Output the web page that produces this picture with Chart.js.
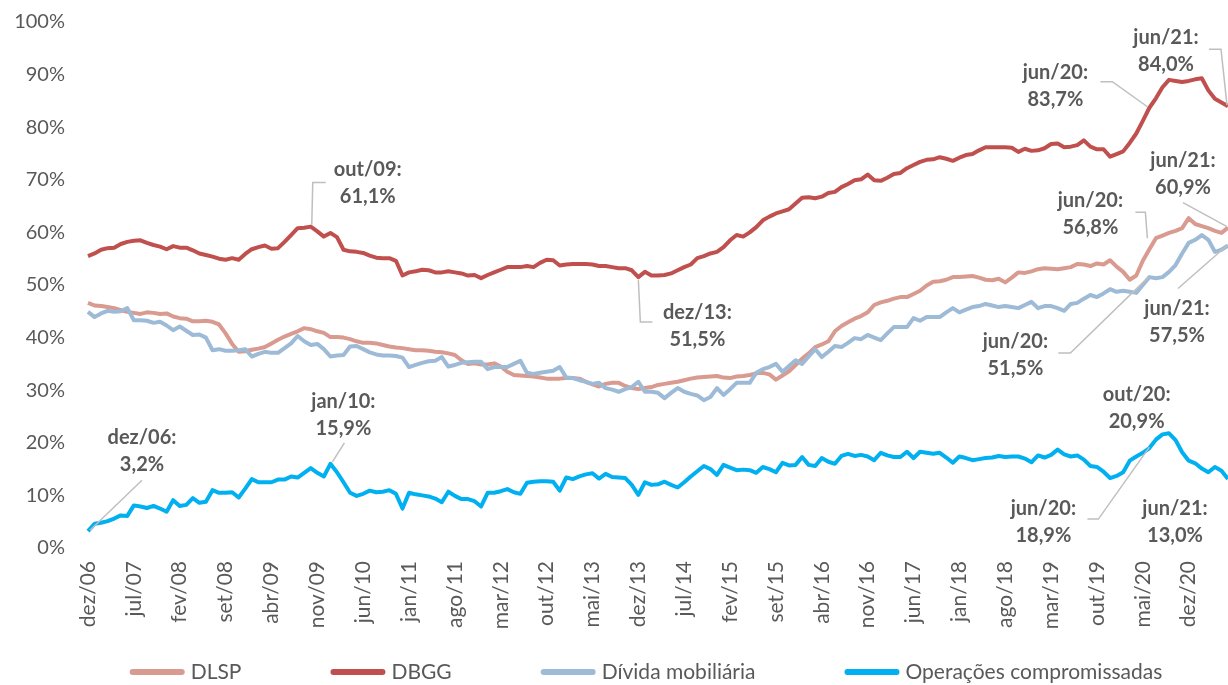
<!DOCTYPE html>
<html>
<head>
<meta charset="utf-8">
<script src="https://cdn.jsdelivr.net/npm/chart.js"></script>
<style>
  body { margin: 0; background: #fff; }
  #wrap { width: 1228px; height: 685px; }
</style>
</head>
<body>
<div id="wrap"><canvas id="lineChart" width="1228" height="685"></canvas></div>
<script>
// monthly, dez/06 .. jun/21 (% do PIB)
const monthNames = ['jan', 'fev', 'mar', 'abr', 'mai', 'jun', 'jul', 'ago', 'set', 'out', 'nov', 'dez'];
const categories = [];
for (let y = 2006, m = 11; y < 2021 || m <= 5; m++) {
    if (m === 12) { m = 0; y++; }
    categories.push(monthNames[m] + '/' + String(y).slice(2));
}

const seriesNames = ['DLSP', 'DBGG', 'Dívida mobiliária', 'Operações compromissadas'];

const dlsp = [
    46.6, 46.1, 46.0, 45.8, 45.6, 45.2, 44.9, 44.7, 44.5, 44.8, 44.7, 44.5,
    44.6, 44.0, 43.7, 43.6, 43.1, 43.1, 43.2, 43.0, 42.5, 40.8, 38.8, 37.3,
    37.4, 37.7, 37.9, 38.2, 38.9, 39.6, 40.2, 40.7, 41.2, 41.8, 41.6, 41.2,
    40.9, 40.1, 40.1, 40.0, 39.7, 39.3, 39.0, 39.0, 38.9, 38.6, 38.3, 38.1,
    38.0, 37.8, 37.6, 37.6, 37.5, 37.3, 37.2, 37.0, 36.7, 35.7, 35.0, 35.1,
    34.9, 34.9, 35.1, 34.5, 33.5, 32.9, 32.8, 32.7, 32.6, 32.4, 32.2, 32.2,
    32.2, 32.3, 32.3, 32.2, 31.6, 31.1, 30.7, 31.2, 31.4, 31.4, 30.8, 30.4,
    30.2, 30.4, 30.6, 31.0, 31.2, 31.4, 31.6, 31.9, 32.2, 32.4, 32.5, 32.6,
    32.7, 32.4, 32.3, 32.6, 32.7, 32.9, 33.2, 33.3, 33.0, 32.0, 32.8, 33.6,
    34.8, 36.0, 37.0, 38.2, 38.7, 39.3, 41.2, 42.2, 42.9, 43.6, 44.1, 44.8,
    46.2, 46.7, 47.0, 47.4, 47.7, 47.7, 48.3, 48.9, 49.9, 50.6, 50.7, 51.0,
    51.5, 51.5, 51.6, 51.7, 51.4, 51.0, 50.9, 51.2, 50.5, 51.4, 52.4, 52.3,
    52.6, 53.0, 53.2, 53.1, 53.0, 53.2, 53.4, 54.0, 53.9, 53.6, 54.1, 53.9,
    54.7, 53.5, 52.5, 51.0, 51.8, 54.6, 56.8, 58.9, 59.4, 59.9, 60.3, 60.8,
    62.7, 61.6, 61.2, 60.8, 60.3, 59.9, 60.9
];

const dbgg = [
    55.5, 56.0, 56.7, 57.0, 57.1, 57.8, 58.2, 58.4, 58.5, 58.0, 57.6, 57.3,
    56.8, 57.4, 57.1, 57.1, 56.6, 56.0, 55.7, 55.4, 55.0, 54.8, 55.1, 54.8,
    55.9, 56.8, 57.2, 57.5, 56.9, 57.0, 58.2, 59.5, 60.8, 60.9, 61.1, 60.2,
    59.2, 59.9, 59.1, 56.7, 56.4, 56.3, 56.1, 55.6, 55.2, 55.1, 55.1, 54.6,
    51.8, 52.4, 52.6, 52.9, 52.8, 52.4, 52.4, 52.6, 52.4, 52.2, 51.8, 51.9,
    51.3, 51.9, 52.4, 52.9, 53.4, 53.4, 53.4, 53.6, 53.4, 54.2, 54.8, 54.7,
    53.7, 53.9, 54.0, 54.0, 54.0, 53.9, 53.6, 53.6, 53.4, 53.2, 53.2, 52.8,
    51.5, 52.5, 51.8, 51.8, 51.9, 52.2, 52.8, 53.4, 53.9, 55.1, 55.5, 56.0,
    56.3, 57.2, 58.5, 59.5, 59.2, 60.0, 61.0, 62.3, 63.0, 63.6, 64.0, 64.4,
    65.5, 66.6, 66.7, 66.5, 66.8, 67.5, 67.7, 68.6, 69.2, 69.9, 70.1, 71.0,
    69.9, 69.8, 70.4, 71.1, 71.3, 72.2, 72.8, 73.4, 73.8, 73.9, 74.3, 74.0,
    73.6, 74.2, 74.7, 74.9, 75.6, 76.2, 76.2, 76.2, 76.2, 76.1, 75.3, 75.9,
    75.5, 75.6, 76.0, 76.8, 76.9, 76.2, 76.3, 76.6, 77.5, 76.3, 75.8, 75.8,
    74.4, 74.9, 75.4, 77.0, 78.8, 81.2, 83.7, 85.5, 87.6, 89.0, 88.8, 88.6,
    88.8, 89.1, 89.3, 87.0, 85.4, 84.7, 84.0
];

const dividaMobiliaria = [
    44.9, 43.9, 44.6, 45.1, 44.9, 45.0, 45.6, 43.3, 43.3, 43.2, 42.8, 43.0,
    42.3, 41.4, 42.1, 41.3, 40.5, 40.6, 40.0, 37.6, 37.8, 37.5, 37.5, 37.6,
    37.8, 36.4, 36.9, 37.3, 37.1, 37.1, 38.0, 38.9, 40.3, 39.3, 38.6, 38.8,
    37.8, 36.4, 36.6, 36.7, 38.3, 38.4, 37.8, 37.2, 36.8, 36.6, 36.6, 36.5,
    36.2, 34.4, 34.8, 35.2, 35.5, 35.6, 36.3, 34.5, 34.8, 35.2, 35.3, 35.4,
    35.4, 34.0, 34.4, 34.4, 34.4, 35.0, 35.6, 33.3, 33.1, 33.3, 33.5, 33.7,
    34.4, 32.4, 32.3, 31.9, 31.6, 31.2, 31.4, 30.4, 30.1, 29.7, 30.2, 30.6,
    31.6, 29.7, 29.7, 29.5, 28.5, 29.5, 30.4, 29.7, 29.3, 29.0, 28.1, 28.7,
    30.4, 29.1, 30.2, 31.4, 31.4, 31.4, 33.3, 34.0, 34.4, 35.0, 33.5, 34.6,
    35.7, 35.0, 36.4, 37.8, 36.3, 37.3, 38.4, 38.2, 39.0, 39.9, 39.7, 40.5,
    40.0, 39.5, 40.8, 42.0, 42.0, 42.0, 43.7, 43.2, 43.9, 43.9, 43.9, 44.8,
    45.6, 44.8, 45.3, 45.8, 46.0, 46.4, 46.1, 45.8, 46.0, 45.8, 45.6, 46.2,
    46.8, 45.6, 46.0, 46.0, 45.6, 45.1, 46.4, 46.6, 47.4, 48.1, 47.7, 48.4,
    49.2, 48.7, 48.9, 48.7, 48.5, 50.0, 51.5, 51.3, 51.5, 52.5, 53.8, 56.0,
    58.0, 58.6, 59.5, 58.6, 56.3, 56.7, 57.5
];

const operacoesCompromissadas = [
    3.2, 4.6, 4.8, 5.1, 5.6, 6.2, 6.1, 8.1, 7.9, 7.6, 8.0, 7.5,
    6.9, 9.1, 8.0, 8.2, 9.5, 8.6, 8.8, 11.0, 10.5, 10.5, 10.6, 9.6,
    11.3, 13.1, 12.5, 12.5, 12.5, 13.0, 13.0, 13.6, 13.4, 14.3, 15.2, 14.3,
    13.6, 16.0, 14.4, 12.5, 10.5, 9.9, 10.3, 10.9, 10.6, 10.7, 11.0, 10.3,
    7.5, 10.5, 10.2, 10.0, 9.8, 9.4, 8.7, 10.7, 9.9, 9.3, 9.3, 8.9,
    7.9, 10.5, 10.5, 10.8, 11.2, 10.6, 10.3, 12.4, 12.6, 12.7, 12.7, 12.6,
    10.9, 13.4, 13.1, 13.6, 14.0, 14.2, 13.2, 14.1, 13.5, 13.4, 13.3, 12.0,
    10.1, 12.5, 12.0, 12.1, 12.6, 12.0, 11.5, 12.5, 13.6, 14.6, 15.6, 15.0,
    13.9, 15.8, 15.3, 14.8, 14.9, 14.8, 14.3, 15.4, 15.0, 14.4, 16.2, 15.7,
    15.8, 17.3, 15.8, 15.6, 17.1, 16.4, 16.0, 17.5, 17.9, 17.5, 17.7, 17.4,
    16.7, 18.1, 17.6, 17.3, 17.3, 18.3, 17.1, 18.3, 18.1, 17.9, 18.1, 17.2,
    16.2, 17.4, 17.1, 16.7, 16.9, 17.1, 17.2, 17.5, 17.3, 17.4, 17.4, 17.0,
    16.3, 17.6, 17.2, 17.7, 18.7, 17.8, 17.4, 17.6, 16.8, 15.6, 15.4, 14.5,
    13.3, 13.7, 14.4, 16.6, 17.4, 18.1, 19.0, 20.6, 21.6, 21.8, 20.5, 18.2,
    16.6, 16.1, 15.1, 14.4, 15.4, 14.7, 13.1
];

const yTicks = [0, 10, 20, 30, 40, 50, 60, 70, 80, 90, 100];

// callouts: series index, month index, text; offsets in px from the point
const callouts = [
    { series: 3, index: 0,   text: ['dez/06:', '3,2%'],  dx: 54,   dy: -94, leader: [[2, -1], [54, -51]] },
    { series: 3, index: 37,  text: ['jan/10:', '15,9%'], dx: 13,   dy: -62, leader: [[2, -2], [14, -21]] },
    { series: 1, index: 34,  text: ['out/09:', '61,1%'], dx: 57,   dy: -57, leader: [[1, -2], [2, -44], [15, -44]] },
    { series: 1, index: 84,  text: ['dez/13:', '51,5%'], dx: 59,   dy: 35,  leader: [[0, 3], [2, 45], [14, 45]] },
    { series: 1, index: 162, text: ['jun/20:', '83,7%'], dx: -94,  dy: -35, leader: [[-2, -1], [-37, -26], [-49, -26]] },
    { series: 1, index: 174, text: ['jun/21:', '84,0%'], dx: -62,  dy: -69, leader: [[-1, -1], [-7, -57], [-19, -57]] },
    { series: 0, index: 162, text: ['jun/20:', '56,8%'], dx: -59,  dy: -49, leader: [[-2, -11], [-4, -37], [-14, -37]] },
    { series: 0, index: 174, text: ['jun/21:', '60,9%'], dx: -45,  dy: -67, leader: [[-1, -1], [-45, -25]] },
    { series: 2, index: 162, text: ['jun/20:', '51,5%'], dx: -134, dy: 64,  leader: [[-1, 0], [-79, 76], [-91, 76]] },
    { series: 2, index: 174, text: ['jun/21:', '57,5%'], dx: -51,  dy: 63,  leader: [[-1, 0], [-50, 43]] },
    { series: 3, index: 166, text: ['out/20:', '20,9%'], dx: -39,  dy: -46, leader: null },
    { series: 3, index: 162, text: ['jun/20:', '18,9%'], dx: -106, dy: 60,  leader: [[0, -1], [-51, 71], [-62, 71]] },
    { series: 3, index: 174, text: ['jun/21:', '13,0%'], dx: -53,  dy: 29,  leader: null }
];

const textColor = '#595959';
const fontFamily = 'Lato, "Open Sans", sans-serif';

const calloutPlugin = {
    id: 'callouts',
    afterDatasetsDraw(chart) {
        const ctx = chart.ctx;
        ctx.save();
        callouts.forEach(c => {
            const pt = chart.getDatasetMeta(c.series).data[c.index];
            if (c.leader) {
                ctx.strokeStyle = '#BFBFBF';
                ctx.lineWidth = 1.5;
                ctx.beginPath();
                c.leader.forEach((p, i) => {
                    if (i === 0) ctx.moveTo(pt.x + p[0], pt.y + p[1]);
                    else ctx.lineTo(pt.x + p[0], pt.y + p[1]);
                });
                ctx.stroke();
            }
            ctx.fillStyle = textColor;
            ctx.font = 'bold 20px ' + fontFamily;
            ctx.textAlign = 'center';
            ctx.textBaseline = 'middle';
            c.text.forEach((t, i) => ctx.fillText(t, pt.x + c.dx, pt.y + c.dy + i * 27));
        });
        ctx.restore();
    }
};

// legend drawn under the axis, line swatches like the original
const legendPlugin = {
    id: 'lineLegend',
    afterDraw(chart) {
        const ctx = chart.ctx;
        const swatch = 55, gap = 6, spacing = 89, y = 672;
        ctx.save();
        ctx.font = '21px ' + fontFamily;
        const items = chart.data.datasets.map(ds => ({
            label: ds.label, color: ds.borderColor,
            w: swatch + gap + ctx.measureText(ds.label).width
        }));
        const total = items.reduce((s, it) => s + it.w, 0) + spacing * (items.length - 1);
        let x = 646 - total / 2;
        items.forEach(it => {
            ctx.strokeStyle = it.color;
            ctx.lineWidth = 6;
            ctx.lineCap = 'round';
            ctx.beginPath();
            ctx.moveTo(x + 3, y);
            ctx.lineTo(x + swatch - 3, y);
            ctx.stroke();
            ctx.fillStyle = textColor;
            ctx.textAlign = 'left';
            ctx.textBaseline = 'middle';
            ctx.fillText(it.label, x + swatch + gap, y);
            x += it.w + spacing;
        });
        ctx.restore();
    }
};

function makeDataset(label, data, color, order) {
    return {
        label: label,
        data: data,
        borderColor: color,
        backgroundColor: color,
        borderWidth: 4,
        pointRadius: 0,
        tension: 0,
        borderJoinStyle: 'round',
        order: order
    };
}

const ctx = document.getElementById('lineChart').getContext('2d');
new Chart(ctx, {
    type: 'line',
    data: {
        labels: categories,
        datasets: [
            makeDataset(seriesNames[0], dlsp, '#D99A90', 4),
            makeDataset(seriesNames[1], dbgg, '#C0504D', 3),
            makeDataset(seriesNames[2], dividaMobiliaria, '#9DBAD6', 2),
            makeDataset(seriesNames[3], operacoesCompromissadas, '#00B0F0', 1)
        ]
    },
    options: {
        responsive: false,
        animation: false,
        devicePixelRatio: 1,
        layout: { padding: { top: 22, right: 0, bottom: 0, left: 0 } },
        plugins: {
            legend: { display: false },
            tooltip: { enabled: false }
        },
        scales: {
            x: {
                grid: { display: false, drawTicks: false },
                border: { display: false },
                afterFit: scale => { scale.height = 137; },
                ticks: {
                    autoSkip: false,
                    maxRotation: 90,
                    minRotation: 90,
                    padding: 13,
                    color: textColor,
                    font: { family: fontFamily, size: 21 },
                    callback: function (value, index) {
                        return index % 7 === 0 ? this.getLabelForValue(value) : null;
                    }
                }
            },
            y: {
                min: 0,
                max: 100,
                grid: { display: false, drawTicks: false },
                border: { display: false },
                afterFit: scale => {
                    scale.width = 88;
                    scale.paddingTop = 0;
                    scale.paddingBottom = 0;
                },
                afterBuildTicks: scale => { scale.ticks = yTicks.map(v => ({ value: v })); },
                ticks: {
                    padding: 23,
                    color: textColor,
                    font: { family: fontFamily, size: 20 },
                    callback: v => v + '%'
                }
            }
        }
    },
    plugins: [calloutPlugin, legendPlugin]
});
</script>
</body>
</html>
